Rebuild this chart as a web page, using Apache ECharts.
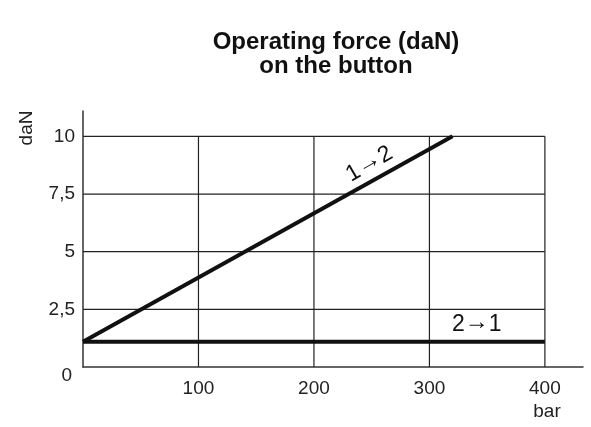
<!DOCTYPE html>
<html><head><meta charset="utf-8">
<script src="https://cdn.jsdelivr.net/npm/echarts@6/dist/echarts.min.js"></script>
<style>html,body{margin:0;padding:0;background:#fff}#c{width:591px;height:427px}</style>
</head><body><div id="c"></div>
<script>
const titleLines = ['Operating force (daN)', 'on the button'];
const xTicks = [100, 200, 300, 400];
const yTicks = [2.5, 5, 7.5, 10];
const line12 = [[0, 1.1], [320, 10]];
const line21 = [[0, 1.1], [400, 1.1]];
const label12 = '{d|1}{a|\u2192}{d|2}';
const label21 = '{d|2}{a|\u2192}{d|1}';
const yName = 'daN';
const xName = 'bar';
const FONT = 'Liberation Sans, Arial, sans-serif';

const gridSeries = [];
yTicks.forEach(v => gridSeries.push({type:'line', data:[[0,v],[400,v]], symbol:'none', silent:true,
  lineStyle:{color:'#222', width:1.2}, z:1}));
xTicks.forEach(v => gridSeries.push({type:'line', data:[[v,0],[v,10]], symbol:'none', silent:true,
  lineStyle:{color:'#222', width:1.2}, z:1}));

const richArrow = {
  d:{fontFamily:FONT, fontSize:23, color:'#111', height:26, verticalAlign:'middle'},
  a:{fontFamily:FONT, fontSize:24, color:'#111', height:26, padding:[0,0,3,0], verticalAlign:'middle'}
};

const chart = echarts.init(document.getElementById('c'), null, {renderer:'canvas'});
chart.setOption({
  animation:false,
  backgroundColor:'#fff',
  title:{text: titleLines.join('\n'), left:331, top:25, textAlign:'center',
    textStyle:{fontFamily:FONT, fontWeight:'bold', fontSize:24, lineHeight:24, color:'#111'}},
  grid:{left:83, right:8, top:111, bottom:60},
  graphic:[
    {type:'text', x:27, y:128, rotation:Math.PI/2, style:{text:yName, font:'19px ' + FONT, fill:'#222', align:'center', verticalAlign:'middle'}},
    {type:'text', x:547, y:412, style:{text:xName, font:'19px ' + FONT, fill:'#222', align:'center', verticalAlign:'middle'}}
  ],
  xAxis:{type:'value', min:0, max:433, interval:100,
    axisLine:{show:true, lineStyle:{color:'#333', width:1.5}}, axisTick:{show:false}, splitLine:{show:false},
    axisLabel:{showMaxLabel:false, margin:12, fontFamily:FONT, fontSize:19, color:'#222',
      formatter:v=> v===0 ? '' : String(v)}},
  yAxis:{type:'value', min:0, max:11.1, interval:2.5,
    axisLine:{show:true, lineStyle:{color:'#333', width:1.5}}, axisTick:{show:false}, splitLine:{show:false},
    axisLabel:{showMaxLabel:false, margin:8, fontFamily:FONT, fontSize:19, color:'#222',
      formatter:v=> v===0 ? '{z|0}' : String(v).replace('.', ','),
      rich:{z:{fontFamily:FONT, fontSize:19, color:'#222', padding:[18,3,0,0]}}}},
  series:[
    ...gridSeries,
    {type:'line', data:line12, symbol:'none', lineStyle:{color:'#111', width:4}, z:3,
      markPoint:{symbol:'circle', symbolSize:0, data:[{coord:[248,8.8]}],
        label:{show:true, formatter:label12, rotate:30, color:'#111', position:'inside', rich:richArrow}}},
    {type:'line', data:line21, symbol:'none', lineStyle:{color:'#111', width:4}, z:3,
      markPoint:{symbol:'circle', symbolSize:0, data:[{coord:[341,1.85]}],
        label:{show:true, formatter:label21, color:'#111', position:'inside', rich:richArrow}}}
  ]
});
</script></body></html>
